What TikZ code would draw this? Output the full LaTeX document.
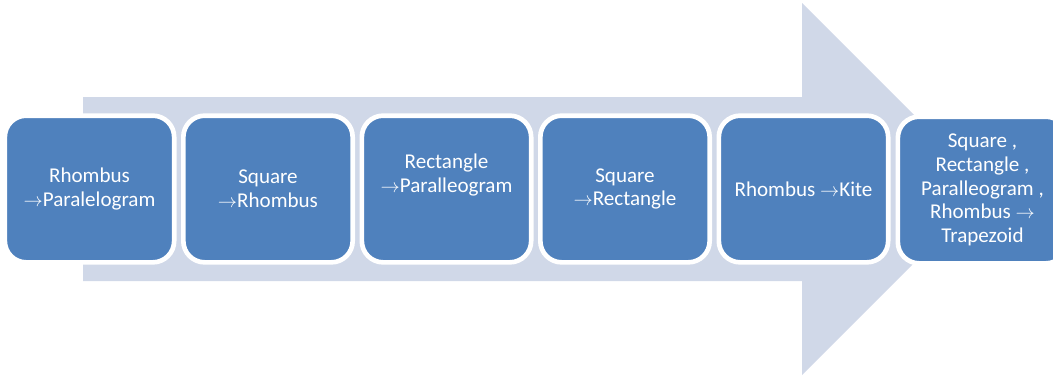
\documentclass[tikz,border=0pt]{standalone}
\usepackage{fontspec}
\setmainfont{Carlito}
\definecolor{arrowfill}{HTML}{D0D8E8}
\definecolor{boxfill}{HTML}{4F81BD}
\begin{document}
\begin{tikzpicture}[x=0.75pt,y=-0.75pt,
  stagebox/.style={draw=white, line width=3.5pt, fill=boxfill,
    rounded corners=16pt, minimum width=127pt, minimum height=110pt,
    text=white, align=center, font=\fontsize{15.8}{17.8}\selectfont, inner sep=2pt}]
  \useasboundingbox (0,0) rectangle (1053,376);
  % broad arrow behind the stages
  \fill[arrowfill] (83,97) -- (802,97) -- (802,3) -- (988,189)
    -- (802,375) -- (802,281) -- (83,281) -- cycle;
  % stages
  \node[stagebox] (b1) at (89.5,189) {Rhombus\\$\rightarrow$Paralelogram};
  \node[stagebox] (b2) at (268,189) {Square\\$\rightarrow$Rhombus};
  \node[stagebox] (b3) at (446.5,189) {Rectangle\\$\rightarrow$Paralleogram\\[6pt]\mbox{}};
  \node[stagebox] (b4) at (625,189) {Square\\$\rightarrow$Rectangle};
  \node[stagebox] (b5) at (803.5,189) {Rhombus $\rightarrow$Kite};
  \node[stagebox] (b6) at (982.5,190) {Square ,\\Rectangle ,\\Paralleogram ,\\Rhombus $\rightarrow$\\Trapezoid};
\end{tikzpicture}
\end{document}
